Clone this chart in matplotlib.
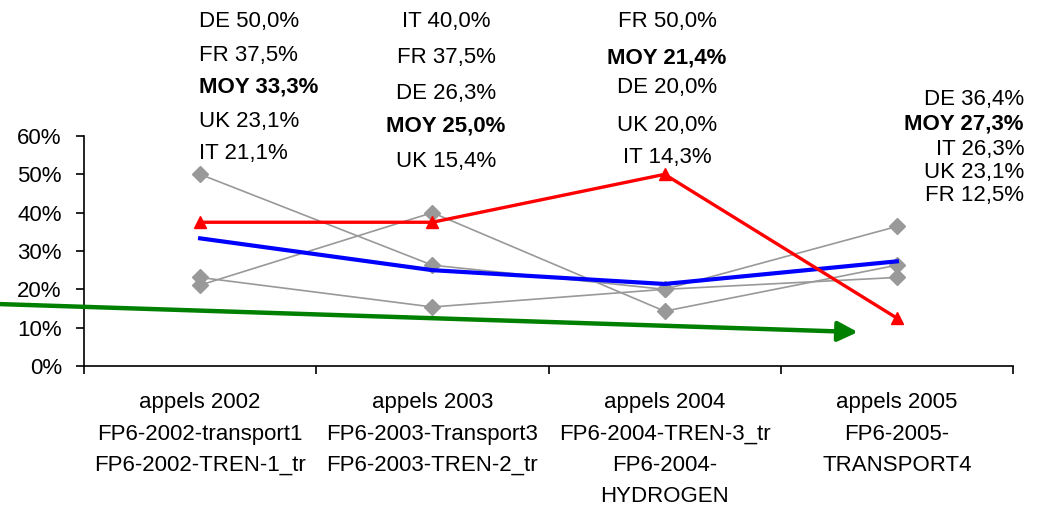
import matplotlib.pyplot as plt

plt.rcParams['font.family'] = ['Liberation Sans', 'DejaVu Sans']
plt.rcParams['font.size'] = 16

categories = ['appels 2002\nFP6-2002-transport1\nFP6-2002-TREN-1_tr',
              'appels 2003\nFP6-2003-Transport3\nFP6-2003-TREN-2_tr',
              'appels 2004\nFP6-2004-TREN-3_tr\nFP6-2004-\nHYDROGEN',
              'appels 2005\nFP6-2005-\nTRANSPORT4']
de  = [50.0, 26.3, 20.0, 36.4]
it  = [21.1, 40.0, 14.3, 26.3]
uk  = [23.1, 15.4, 20.0, 23.1]
fr  = [37.5, 37.5, 50.0, 12.5]
moy = [33.3, 25.0, 21.4, 27.3]
series = {'DE': de, 'FR': fr, 'IT': it, 'UK': uk, 'MOY': moy}

# where the value lists sit above the plot (figure pixels, 1039x508)
col_x = [199, 446, 667, 1024]
col_ha = ['left', 'center', 'center', 'right']
row_y = [[22, 55, 87, 121, 153],
         [22, 58, 94, 126, 162],
         [22, 58, 88, 125, 157],
         [100, 124, 150, 172, 195]]

W, H = 1039, 508
fig = plt.figure(figsize=(W/100, H/100), dpi=100)
ax = fig.add_axes([84/W, 142/H, 929/W, 230/H])

x = range(len(categories))
for v in [de, it, uk]:
    ax.plot(x, v, color='#999999', lw=1.2, marker='D', ms=8, zorder=2)
ax.plot(x, moy, color='#0000ff', lw=3, zorder=3)
ax.plot(x, fr, color='#ff0000', lw=2.4, marker='^', ms=9, zorder=4)

ax.set_xlim(-0.5, 3.5)
ax.set_ylim(0, 60)
ax.set_yticks(range(0, 61, 10))
ax.set_yticklabels(['%d%%' % t for t in range(0, 61, 10)])
ax.tick_params(axis='y', length=6, width=1.2, pad=10)

ax.set_xticks([-0.5, 0.5, 1.5, 2.5, 3.5])
ax.set_xticklabels([])
ax.set_xticks(list(x), minor=True)
ax.set_xticklabels(categories, minor=True)
ax.tick_params(axis='x', which='major', length=6, width=1.2)
ax.tick_params(axis='x', which='minor', length=0, pad=19)
for t in ax.get_xticklabels(minor=True):
    t.set_linespacing(1.64)

for s in ['top', 'right']:
    ax.spines[s].set_visible(False)
for s in ['left', 'bottom']:
    ax.spines[s].set_linewidth(1.2)

# value labels, sorted high to low for each call
for i in range(len(categories)):
    items = sorted(series.items(), key=lambda kv: -kv[1][i])
    for j, (name, vals) in enumerate(items):
        txt = ('%s %.1f%%' % (name, vals[i])).replace('.', ',')
        fig.text(col_x[i]/W, 1 - row_y[i][j]/H, txt, ha=col_ha[i], va='center',
                 fontweight='bold' if name == 'MOY' else 'normal')

# green trend arrow
ax.annotate('', xy=(2.832, 8.85), xytext=(-0.862, 16.15),
            arrowprops=dict(arrowstyle='-|>,head_length=0.6,head_width=0.3',
                            color='#008000', lw=3.2, mutation_scale=20,
                            shrinkA=0, shrinkB=0),
            annotation_clip=False, zorder=5)

plt.savefig('out.png', dpi=100)
